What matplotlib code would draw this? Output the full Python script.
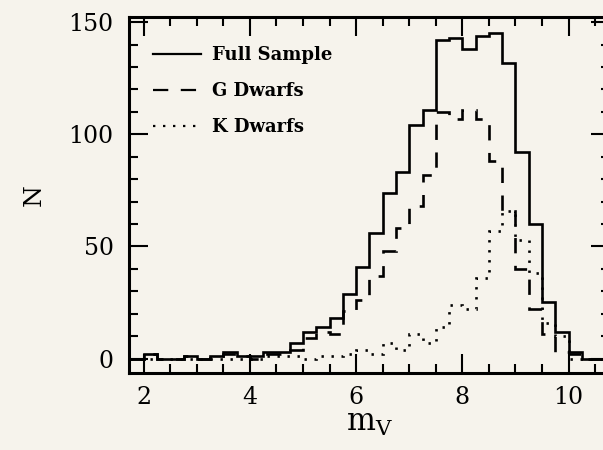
import numpy as np
import matplotlib
matplotlib.use("Agg")
import matplotlib.pyplot as plt
from matplotlib.ticker import MultipleLocator

# magnitude bins, 0.25 mag wide
edges = np.arange(1.75, 11.001, 0.25)

full_sample = [0, 2, 0, 0, 1, 0, 1, 3, 1, 1, 3, 3, 7, 12, 14, 18, 29, 41, 56, 74,
               83, 104, 111, 142, 143, 138, 144, 145, 132, 92, 60, 25, 12, 3, 0, 0, 0]
g_dwarfs = [0, 2, 0, 0, 1, 0, 1, 2, 1, 0, 2, 2, 4, 9, 12, 11, 21, 26, 37, 48,
            58, 68, 82, 110, 107, 111, 107, 88, 66, 40, 22, 11, 3, 2, 0, 0, 0]
k_dwarfs = [0, 0, 0, 0, 0, 0, 0, 0, 0, 0, 1, 1, 1, 0, 1, 1, 2, 4, 2, 7,
            4, 11, 7, 14, 24, 22, 36, 57, 66, 53, 38, 16, 10, 0, 0, 0, 0]

labels = ["Full Sample", "G Dwarfs", "K Dwarfs"]

plt.rcParams['font.family'] = ['DejaVu Serif']
plt.rcParams['mathtext.fontset'] = 'dejavuserif'
plt.rcParams['lines.scale_dashes'] = False

bg = '#f6f3ec'
fig = plt.figure(figsize=(6.03, 4.5), dpi=100, facecolor=bg)
ax = fig.add_axes([0.2136, 0.1704, 0.798, 0.7912])
ax.set_facecolor(bg)

lw = 1.9
ax.stairs(full_sample, edges, color='k', lw=lw, label=labels[0])
ax.stairs(g_dwarfs, edges, color='k', lw=lw, linestyle=(0, (11, 9)), label=labels[1])
ax.stairs(k_dwarfs, edges, color='k', lw=lw, linestyle=(0, (1.7, 5.5)), label=labels[2])

ax.set_xlim(1.72, 10.78)
ax.set_ylim(-6.6, 152.2)

ax.xaxis.set_major_locator(MultipleLocator(2))
ax.xaxis.set_minor_locator(MultipleLocator(0.5))
ax.yaxis.set_major_locator(MultipleLocator(50))
ax.yaxis.set_minor_locator(MultipleLocator(10))
ax.tick_params(which='both', direction='in', top=True, right=True, width=1.5,
               labelsize=17, colors='k')
ax.tick_params(which='major', length=13.5)
ax.tick_params(which='minor', length=6.5)
ax.tick_params(axis='x', pad=9)
ax.tick_params(axis='y', pad=11)
for sp in ax.spines.values():
    sp.set_linewidth(2.2)

ax.set_xlabel(r'$\mathrm{m_V}$', fontsize=22, labelpad=-1)
ax.set_ylabel('N', fontsize=18, labelpad=16)

leg = ax.legend(loc='upper left', bbox_to_anchor=(0.05, 0.918), frameon=False,
                fontsize=13, handlelength=2.65, handletextpad=0.65,
                labelspacing=0.98, borderpad=0, borderaxespad=0)
for t in leg.get_texts():
    t.set_fontweight('bold')
for h in leg.get_lines():
    h.set_linewidth(1.6)

fig.savefig('out.png', dpi=100, facecolor=bg)
